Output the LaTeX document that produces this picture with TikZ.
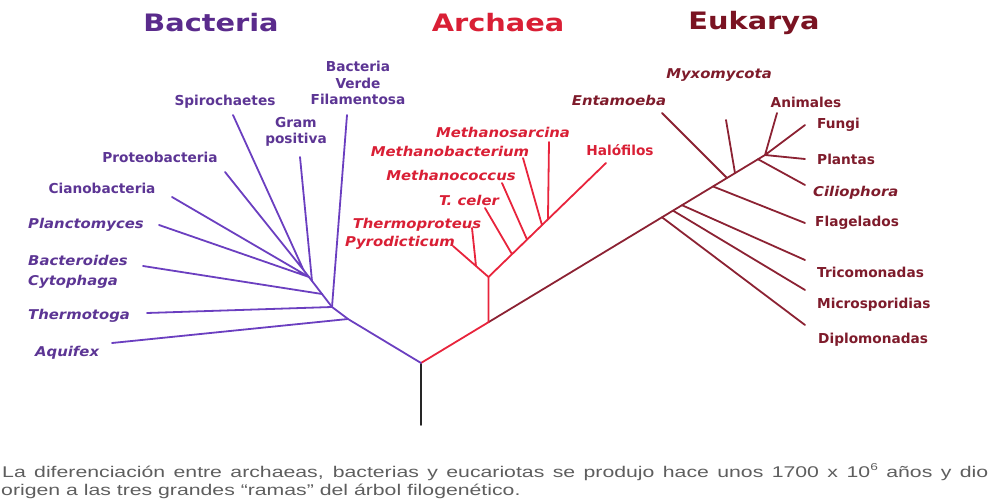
\documentclass[tikz,border=0pt]{standalone}
\usepackage{fontspec}
\newfontfamily\treefont{DejaVu Sans}
\newfontfamily\treeslant[FakeStretch=1.1]{DejaVu Sans}
\newfontfamily\realmfont[FakeStretch=1.2]{DejaVu Sans}
\newfontfamily\notefont[FakeStretch=1.37]{Liberation Sans}
\usetikzlibrary{calc}
\definecolor{bactLine}{HTML}{6B3FC0}
\definecolor{bactInk}{HTML}{5C3594}
\definecolor{bactHead}{HTML}{5A2B8C}
\definecolor{archLine}{HTML}{E8243C}
\definecolor{archInk}{HTML}{D91F35}
\definecolor{eukLine}{HTML}{8C2233}
\definecolor{eukInk}{HTML}{7E1B2B}
\definecolor{eukHead}{HTML}{7A1322}
\definecolor{noteInk}{HTML}{5E5E5E}
\tikzset{branch/.style={line width=1.8pt,line cap=round,line join=round},
  bactBr/.style={branch,draw=bactLine},
  archBr/.style={branch,draw=archLine},
  eukBr/.style={branch,draw=eukLine},
  realm/.style={font=\realmfont\bfseries\fontsize{24}{28}\selectfont,inner sep=0pt},
  tax/.style={font=\treefont\bfseries\fontsize{13.7}{16.5}\selectfont,inner sep=0pt},
  taxit/.style={font=\treeslant\bfseries\itshape\fontsize{13.5}{20}\selectfont,inner sep=0pt},
  foot/.style={font=\notefont\fontsize{15.5}{19}\selectfont,text=noteInk,inner sep=0pt,anchor=west}}

\begin{document}
\begin{tikzpicture}[x=1pt,y=-1pt]
  \useasboundingbox (0,0) rectangle (995,502);
  % the three realms
  \node[realm,text=bactHead] (hBac) at (211,23) {Bacteria};
  \node[realm,text=archInk] (hArc) at (498,23) {Archaea};
  \node[realm,text=eukHead] (hEuk) at (754,23) {Eukarya};
  % trunk
  \coordinate (root) at (421,363);
  \coordinate (base) at (421,425);
  \coordinate (eTop) at (765,155);
  \coordinate (aFork) at ($(root)!0.1962!(eTop)$);
  \draw[branch,draw=black!85] (root)--(base);
  \draw[archBr] (root)--(aFork);
  \draw[eukBr] (aFork)--(eTop);
  % Bacteria
  \coordinate (b1) at (348,319);
  \coordinate (b2) at (332,307);
  \coordinate (b3) at (322,294);
  \coordinate (b4) at (312,281);
  \coordinate (b4a) at (309,277);
  \coordinate (b5) at (303.5,270);
  \draw[bactBr] (root)--(b1)--(b2)--(b3)--(b4)--(b5);
  \coordinate (tAqu) at (112,343);
  \coordinate (tThe) at (147,313);
  \coordinate (tBct) at (143,266);
  \coordinate (tPla) at (159,225);
  \coordinate (tCia) at (172,197);
  \coordinate (tPro) at (225,172);
  \coordinate (tSpi) at (233,115);
  \coordinate (tGra) at (300,157);
  \coordinate (tFil) at (347,115);
  \draw[bactBr] (tAqu)--(b1) (tThe)--(b2) (tFil)--(b2) (tBct)--(b3)
    (tGra)--(b4) (tPla)--(b4a) (tCia)--(b4a) (tPro)--(b5) (tSpi)--(b5);
  \node[tax,text=bactInk,align=center] (nFil) at (358,83) {Bacteria\\Verde\\Filamentosa};
  \node[tax,text=bactInk,align=center] (nGra) at (296,132) {Gram\\positiva};
  \node[tax,text=bactInk] (nSpi) at (225,102) {Spirochaetes};
  \node[tax,text=bactInk] (nPro) at (160,157) {Proteobacteria};
  \node[tax,text=bactInk] (nCia) at (102,188) {Cianobacteria};
  \node[taxit,text=bactInk,anchor=west] (nPla) at (28,225) {Planctomyces};
  \node[taxit,text=bactInk,anchor=west,align=left] (nBct) at (28,272) {Bacteroides\\Cytophaga};
  \node[taxit,text=bactInk,anchor=west] (nThe) at (28,316) {Thermotoga};
  \node[taxit,text=bactInk,anchor=west] (nAqu) at (35,353) {Aquifex};
  % Archaea
  \coordinate (a1) at (488.5,277);
  \coordinate (tHal) at (606,163);
  \coordinate (tPyr) at (453,246);
  \coordinate (a2) at ($(a1)!0.352!(tPyr)$);
  \coordinate (tThp) at (472,228);
  \coordinate (aCel) at ($(a1)!0.2!(tHal)$);
  \coordinate (aCoc) at ($(a1)!0.328!(tHal)$);
  \coordinate (aBac) at ($(a1)!0.455!(tHal)$);
  \coordinate (aSar) at ($(a1)!0.506!(tHal)$);
  \coordinate (tCel) at (485,208);
  \coordinate (tCoc) at (502,183);
  \coordinate (tBac) at (523,158);
  \coordinate (tSar) at (549,142);
  \draw[archBr] (aFork)--(a1)--(tHal) (a1)--(tPyr) (tThp)--(a2)
    (tCel)--(aCel) (tCoc)--(aCoc) (tBac)--(aBac) (tSar)--(aSar);
  \node[taxit,text=archInk] (nSar) at (503,132) {Methanosarcina};
  \node[taxit,text=archInk] (nMba) at (450,151) {Methanobacterium};
  \node[taxit,text=archInk] (nCoc) at (451,175) {Methanococcus};
  \node[taxit,text=archInk] (nCel) at (469,200) {T. celer};
  \node[taxit,text=archInk] (nThp) at (417,225) {Thermoproteus};
  \node[taxit,text=archInk] (nPyr) at (400,243) {Pyrodicticum};
  \node[tax,text=archInk] (nHal) at (620,150) {Halófilos};
  % Eukarya
  \coordinate (eDip) at ($(root)!0.7006!(eTop)$);
  \coordinate (eMic) at ($(root)!0.7326!(eTop)$);
  \coordinate (eTri) at ($(root)!0.7587!(eTop)$);
  \coordinate (eFla) at ($(root)!0.8488!(eTop)$);
  \coordinate (eEnt) at ($(root)!0.8895!(eTop)$);
  \coordinate (eMyx) at ($(root)!0.9128!(eTop)$);
  \coordinate (eCil) at ($(root)!0.9797!(eTop)$);
  \coordinate (tDip) at (805,325);
  \coordinate (tMic) at (805,290);
  \coordinate (tTri) at (805,260);
  \coordinate (tFla) at (805,223);
  \coordinate (tEnt) at (662,113);
  \coordinate (tMyx) at (726,120);
  \coordinate (tCil) at (805,185);
  \coordinate (tPln) at (805,159);
  \coordinate (tFun) at (805,125);
  \coordinate (tAni) at (777,113);
  \draw[eukBr] (eDip)--(tDip) (eMic)--(tMic) (eTri)--(tTri) (eFla)--(tFla)
    (eEnt)--(tEnt) (eMyx)--(tMyx) (eCil)--(tCil)
    (eTop)--(tPln) (eTop)--(tFun) (eTop)--(tAni);
  \node[taxit,text=eukInk] (nMyx) at (719,75) {Myxomycota};
  \node[taxit,text=eukInk] (nEnt) at (619,100) {Entamoeba};
  \node[tax,text=eukInk] (nAni) at (806,102) {Animales};
  \node[tax,text=eukInk,anchor=west] (nFun) at (817,125) {Fungi};
  \node[tax,text=eukInk,anchor=west] (nPln) at (817,159) {Plantas};
  \node[taxit,text=eukInk,anchor=west] (nCil) at (813,193) {Ciliophora};
  \node[tax,text=eukInk,anchor=west] (nFla) at (815,223) {Flagelados};
  \node[tax,text=eukInk,anchor=west] (nTri) at (817,272) {Tricomonadas};
  \node[tax,text=eukInk,anchor=west] (nMic) at (817,305) {Microsporidias};
  \node[tax,text=eukInk,anchor=west] (nDip) at (818,340) {Diplomonadas};
  % caption
  \node[foot] (note1) at (2,472) {\makebox[986pt][s]{La diferenciación entre archaeas, bacterias y eucariotas se produjo hace unos 1700 x 10\raisebox{7pt}{\fontsize{10}{10}\selectfont 6} años y dio}};
  \node[foot] (note2) at (1,491) {origen a las tres grandes “ramas” del árbol filogenético.};
\end{tikzpicture}
\end{document}
